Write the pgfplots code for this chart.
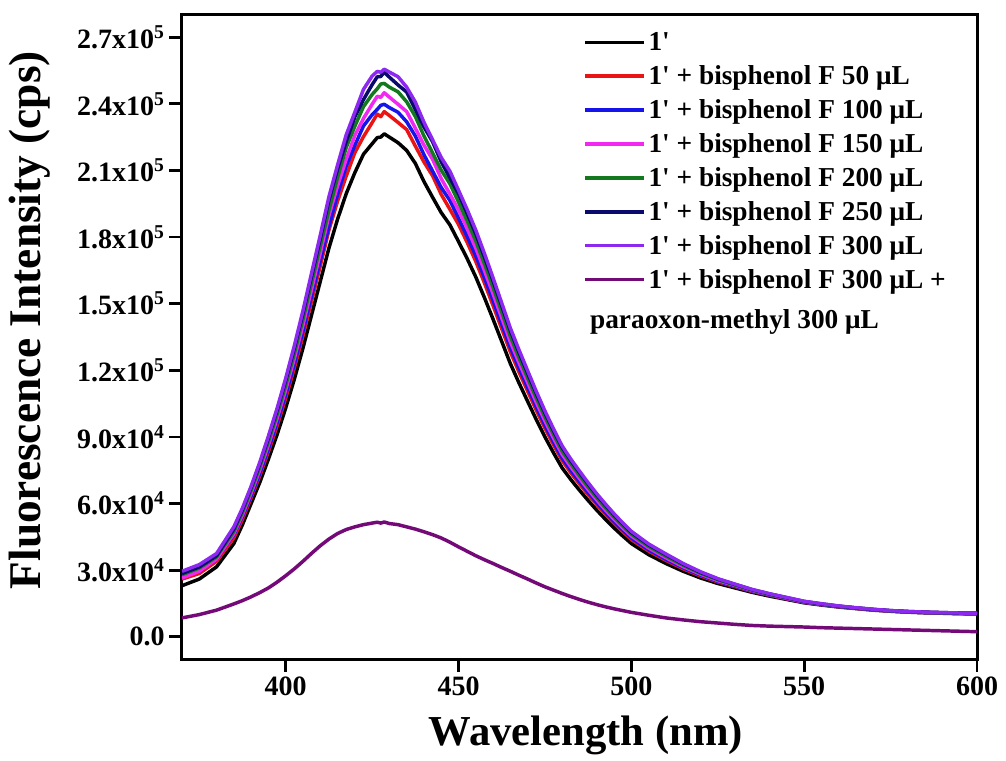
\documentclass[border=0pt]{standalone}
\usepackage{fontspec}
\setmainfont{Liberation Serif}
\usepackage{pgfplots}
\usepackage{pgfplotstable}
\pgfplotsset{compat=1.18}

\definecolor{cred}{RGB}{235,20,20}
\definecolor{cblue}{RGB}{20,20,235}
\definecolor{cmag}{RGB}{240,40,240}
\definecolor{cgreen}{RGB}{20,120,30}
\definecolor{cnavy}{RGB}{10,10,110}
\definecolor{cviol}{RGB}{140,40,240}
\definecolor{cpurp}{RGB}{115,10,120}

% values in units of 1000 cps
\pgfplotstableread{
x B R Bl M G N V P
370 23.0 26.0 27.0 26.5 28.0 28.5 29.5 8.5
375 26.0 28.5 29.5 29.5 31.0 31.5 32.5 10.0
380 31.5 34.0 35.0 35.0 36.0 36.5 37.5 12.0
385 42.0 44.5 46.0 46.5 47.5 48.5 49.5 14.8
387.5 50.5 53.0 54.2 55.0 56.1 57.2 58.0 16.3
390 60.0 62.6 63.5 64.8 66.0 67.2 67.8 18.0
392.5 69.5 72.5 73.6 75.1 76.5 77.8 78.6 19.9
395 80.0 83.4 84.7 86.4 88.0 89.6 90.4 22.0
397.5 91.0 94.9 96.4 98.3 100.1 101.9 102.8 24.6
400 103.0 107.4 109.1 111.2 113.3 115.4 116.4 27.5
402.5 116.0 121.0 122.8 125.3 127.6 129.9 131.1 30.6
405 130.0 135.6 137.7 140.4 143.0 145.6 146.9 34.0
407.5 145.0 151.2 153.6 156.6 159.5 162.4 163.9 37.6
410 160.0 166.9 169.4 172.8 176.0 179.2 180.8 41.0
412.5 175.0 183.1 184.8 189.7 192.1 196.5 198.1 44.0
415 188.0 196.1 199.1 203.0 206.8 210.6 212.4 46.5
417.5 199.5 207.4 211.9 215.0 220.3 223.0 226.0 48.3
420 209.0 218.0 221.3 225.7 229.9 234.1 236.2 49.5
422.5 217.3 225.2 230.0 233.4 238.7 241.9 246.5 50.5
425 222.0 231.5 235.1 239.8 244.2 248.6 252.5 51.2
426.5 224.8 235.4 237.5 243.4 246.8 252.2 254.6 51.6
427.5 225.0 234.2 239.3 242.9 248.9 252.3 254.2 51.2
428.5 226.5 236.5 239.8 245.0 249.2 254.2 255.6 51.7
430 225.0 234.7 238.3 243.0 247.5 252.0 254.3 51.0
432.5 222.5 231.6 236.2 239.8 245.4 248.5 252.2 50.5
435 219.0 228.4 231.9 236.5 240.9 245.3 247.5 49.5
437.5 213.2 221.0 225.5 229.1 234.3 237.5 240.8 48.5
440 205.0 213.8 217.1 221.4 225.5 229.6 231.7 47.3
442.5 197.9 207.6 209.7 215.0 217.9 222.9 223.8 46.0
445 191.0 199.2 202.3 206.3 210.1 213.9 215.8 44.5
447.5 185.5 192.5 196.5 199.4 204.0 206.7 209.7 42.6
450 178.0 185.7 188.5 192.2 195.8 199.4 201.1 40.5
452.5 170.3 177.6 180.3 183.9 187.3 190.7 192.4 38.5
455 162.0 169.0 171.6 175.0 178.2 181.4 183.1 36.5
457.5 152.7 159.3 161.7 164.9 168.0 171.0 172.6 34.7
460 143.0 149.1 151.4 154.4 157.3 160.2 161.6 33.0
462.5 133.0 138.7 140.8 143.6 146.3 149.0 150.3 31.2
465 123.0 128.3 130.3 132.8 135.3 137.8 139.0 29.5
467.5 114.3 119.2 121.0 123.4 125.7 128.0 129.2 27.7
470 106.0 110.6 112.3 114.5 116.6 118.7 119.8 26.0
472.5 97.8 102.0 103.6 105.6 107.6 109.5 110.5 24.2
475 90.0 93.9 95.3 97.2 99.0 100.8 101.7 22.5
477.5 82.8 86.4 87.7 89.4 91.1 92.7 93.6 21.0
480 76.0 79.3 80.5 82.1 83.6 85.1 85.9 19.5
482.5 70.8 73.8 75.0 76.5 77.9 79.3 80.0 18.1
485 66.0 68.8 69.9 71.3 72.6 73.9 74.6 16.8
487.5 61.4 64.0 65.0 66.3 67.5 68.8 69.4 15.6
490 57.0 59.5 60.4 61.6 62.7 63.8 64.4 14.5
492.5 52.9 55.2 56.0 57.1 58.2 59.3 59.8 13.5
495 49.0 51.1 51.9 52.9 53.9 54.9 55.4 12.6
497.5 45.4 47.4 48.1 49.0 49.9 50.8 51.3 11.8
500 42.0 43.8 44.5 45.4 46.2 47.0 47.5 11.0
505 37.0 38.6 39.2 40.0 40.7 41.4 41.8 9.7
510 33.0 34.4 34.9 35.6 36.3 37.0 37.3 8.5
515 29.5 30.6 31.1 31.6 32.2 32.7 33.0 7.6
520 26.5 27.4 27.8 28.2 28.6 29.0 29.3 6.8
525 24.0 24.7 25.0 25.3 25.7 26.0 26.2 6.2
530 22.0 22.6 22.8 23.1 23.3 23.6 23.7 5.6
535 20.0 20.4 20.6 20.8 21.0 21.2 21.3 5.1
540 18.3 18.7 18.8 19.0 19.1 19.3 19.4 4.8
545 16.8 17.1 17.2 17.3 17.5 17.6 17.7 4.6
550 15.3 15.5 15.6 15.7 15.8 15.9 16.0 4.4
555 14.3 14.5 14.5 14.6 14.7 14.8 14.9 4.1
560 13.4 13.5 13.6 13.7 13.7 13.8 13.9 3.9
565 12.7 12.8 12.9 12.9 13.0 13.0 13.1 3.7
570 12.0 12.1 12.2 12.2 12.3 12.3 12.4 3.5
575 11.5 11.6 11.6 11.7 11.7 11.8 11.8 3.3
580 11.1 11.2 11.2 11.3 11.3 11.4 11.4 3.1
585 10.8 10.9 10.9 11.0 11.0 11.1 11.1 2.9
590 10.6 10.7 10.7 10.8 10.8 10.9 10.9 2.7
595 10.4 10.5 10.5 10.6 10.6 10.7 10.7 2.5
600 10.3 10.4 10.4 10.5 10.5 10.6 10.6 2.3
}\data

\begin{document}
\begin{tikzpicture}
\begin{axis}[
  name=ax,
  scale only axis,
  width=596.25pt, height=483pt,
  xmin=370, xmax=600,
  ymin=-10, ymax=280,
  xtick={400,450,500,550,600},
  xticklabels={400,450,500,550,600},
  ytick={0,30,60,90,120,150,180,210,240,270},
  yticklabels={0.0,
    3.0x10\textsuperscript{4},
    6.0x10\textsuperscript{4},
    9.0x10\textsuperscript{4},
    1.2x10\textsuperscript{5},
    1.5x10\textsuperscript{5},
    1.8x10\textsuperscript{5},
    2.1x10\textsuperscript{5},
    2.4x10\textsuperscript{5},
    2.7x10\textsuperscript{5}},
  minor tick num=0,
  xtick pos=left, ytick pos=left,
  tick align=outside,
  major tick length=9.5pt,
  every tick/.style={black, line width=2pt},
  axis line style={line width=2.25pt},
  tick label style={font=\fontsize{21}{24}\selectfont\bfseries},
  xlabel={Wavelength (nm)},
  ylabel={Fluorescence Intensity (cps)},
  xlabel style={font=\fontsize{32}{36}\selectfont\bfseries, at={(axis description cs:0.508,-0.135)}, anchor=base},
  ylabel style={font=\fontsize{34}{38}\selectfont\bfseries, at={(axis description cs:-0.191,0.526)}, anchor=center},
  legend style={at={(0.505,0.977)}, anchor=north west, draw=none, fill=none,
    font=\fontsize{20.5}{23}\selectfont\bfseries, row sep=5.7pt,
    inner sep=0pt, nodes={inner sep=2pt}},
  legend cell align=left,
  legend image code/.code={\draw[#1, line width=2.6pt] (0pt,0pt) -- (44pt,0pt);},
  every axis plot/.append style={line width=2.6pt, line join=round},
]
\addplot[black] table[x=x,y=B]{\data};
\addlegendentry{1\textquotesingle}
\addplot[cred] table[x=x,y=R]{\data};
\addlegendentry{1\textquotesingle{} + bisphenol F 50 μL}
\addplot[cblue] table[x=x,y=Bl]{\data};
\addlegendentry{1\textquotesingle{} + bisphenol F 100 μL}
\addplot[cmag] table[x=x,y=M]{\data};
\addlegendentry{1\textquotesingle{} + bisphenol F 150 μL}
\addplot[cgreen] table[x=x,y=G]{\data};
\addlegendentry{1\textquotesingle{} + bisphenol F 200 μL}
\addplot[cnavy] table[x=x,y=N]{\data};
\addlegendentry{1\textquotesingle{} + bisphenol F 250 μL}
\addplot[cviol] table[x=x,y=V]{\data};
\addlegendentry{1\textquotesingle{} + bisphenol F 300 μL}
\addplot[cpurp] table[x=x,y=P]{\data};
\addlegendentry{1\textquotesingle{} + bisphenol F 300 μL +}
\node[anchor=west, font=\fontsize{20.5}{23}\selectfont\bfseries, inner sep=0pt]
  at (axis description cs:0.513,0.523) {paraoxon-methyl 300 μL};
\end{axis}
\pgfresetboundingbox
\path ([shift={(-136.5pt,-75.75pt)}]ax.south west) rectangle ([shift={(21.75pt,11.25pt)}]ax.north east);
\end{tikzpicture}
\end{document}
